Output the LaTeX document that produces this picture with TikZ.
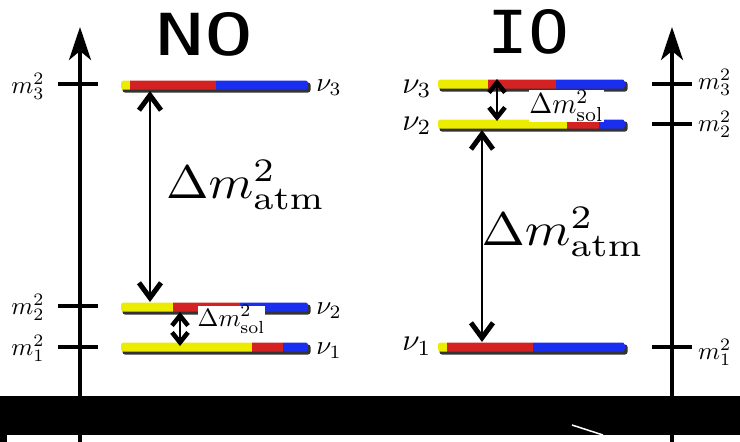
\documentclass[tikz,border=0pt]{standalone}
\usepackage{fontspec}
\usepackage{graphicx}
\usetikzlibrary{arrows.meta}
\newfontfamily\titlefont{DejaVu Sans Mono}
\definecolor{nuyellow}{RGB}{236,236,0}
\definecolor{nured}{RGB}{212,34,34}
\definecolor{nublue}{RGB}{26,46,240}
\newcommand\nubar[6]{%
  \fill[black!80, rounded corners=2.5pt] (#2+1.5,#6-2.5) rectangle (#5+2.5,#6+7.5);
  \begin{scope}
    \clip[rounded corners=2.5pt] (#2,#6-4.5) rectangle (#5,#6+4.5);
    \fill[nuyellow] (#2,#6-5) rectangle (#3,#6+5);
    \fill[nured] (#3,#6-5) rectangle (#4,#6+5);
    \fill[nublue] (#4,#6-5) rectangle (#5,#6+5);
  \end{scope}
  \coordinate (#1) at (#2,#6);}
\begin{document}
\begin{tikzpicture}[x=1pt,y=-1pt,
  axisline/.style={line width=3.5pt, -{Stealth[length=33pt,width=22pt,inset=9pt]}},
  tickline/.style={line width=3.5pt},
  dmatm/.style={line width=1.3pt, {Straight Barb[length=15pt,width=22pt,line width=5pt]}-{Straight Barb[length=15pt,width=22pt,line width=5pt]}},
  dmsol/.style={line width=1.3pt, {Straight Barb[length=10pt,width=16pt,line width=4.5pt]}-{Straight Barb[length=10pt,width=16pt,line width=4.5pt]}},
  lab/.style={inner sep=0pt},
  solbox/.style={inner sep=0pt, fill=white}]
\useasboundingbox (0,0) rectangle (740,442);

% bottom band
\fill[black] (0,396) rectangle (740,435);
\fill[black] (0,435) rectangle (7,442);
\draw[white, line width=1.5pt] (572,425) -- (603,435);

% axes
\coordinate (la0) at (80,442); \coordinate (la1) at (80,27);
\coordinate (ra0) at (672,442); \coordinate (ra1) at (672,27);
\draw[gray!60, line width=4.5pt] (80,396) -- (80,435);
\draw[gray!60, line width=4.5pt] (672,396) -- (672,435);
\draw[axisline] (la0) -- (la1);
\draw[axisline] (ra0) -- (ra1);

% ticks
\coordinate (lt3a) at (58,84); \coordinate (lt3b) at (98,84);
\coordinate (lt2a) at (58,306); \coordinate (lt2b) at (98,306);
\coordinate (lt1a) at (58,347); \coordinate (lt1b) at (98,347);
\coordinate (rt3a) at (652,84); \coordinate (rt3b) at (692,84);
\coordinate (rt2a) at (652,124); \coordinate (rt2b) at (692,124);
\coordinate (rt1a) at (652,347); \coordinate (rt1b) at (692,347);
\draw[tickline] (lt3a) -- (lt3b);
\draw[tickline] (lt2a) -- (lt2b);
\draw[tickline] (lt1a) -- (lt1b);
\draw[tickline] (rt3a) -- (rt3b);
\draw[tickline] (rt2a) -- (rt2b);
\draw[tickline] (rt1a) -- (rt1b);

% axis labels
\node[lab] (lm3) at (28,86.5) {\scalebox{2.5}{$m_3^2$}};
\node[lab] (lm2) at (28,307) {\scalebox{2.5}{$m_2^2$}};
\node[lab] (lm1) at (28,348) {\scalebox{2.5}{$m_1^2$}};
\node[lab, anchor=west] (rm3) at (698,82) {\scalebox{2.5}{$m_3^2$}};
\node[lab, anchor=west] (rm2) at (698,124) {\scalebox{2.5}{$m_2^2$}};
\node[lab, anchor=west] (rm1) at (698,352) {\scalebox{2.5}{$m_1^2$}};

% titles
\node[lab] (tno) at (205,34) {\resizebox{98pt}{43pt}{\titlefont NO}};
\node[lab] (tio) at (529,32) {\resizebox{82pt}{44pt}{\titlefont IO}};

% NO bars
\nubar{no3}{121}{130}{216}{308}{85}
\nubar{no2}{121}{173}{240}{308}{307}
\nubar{no1}{121}{252}{283}{308}{347}
% IO bars
\nubar{io3}{438}{488}{556}{625}{84}
\nubar{io2}{438}{567}{599}{625}{124}
\nubar{io1}{438}{447}{533}{625}{347}

% state labels
\node[lab] (nno3) at (329,88) {\scalebox{2.7}{$\nu_3$}};
\node[lab] (nno2) at (329,311) {\scalebox{2.7}{$\nu_2$}};
\node[lab] (nno1) at (329,351) {\scalebox{2.7}{$\nu_1$}};
\node[lab] (nio3) at (417,89) {\scalebox{3.1}{$\nu_3$}};
\node[lab] (nio2) at (417,126) {\scalebox{3.1}{$\nu_2$}};
\node[lab] (nio1) at (417,346) {\scalebox{3.1}{$\nu_1$}};

% sol label boxes
\node[solbox] (solno) at (231.5,319.5) {\scalebox{2.5}{$\Delta m^2_{\mathrm{sol}}$}};
\node[solbox] (solio) at (566.5,106) {\scalebox{2.75}[2.9]{$\Delta m^2_{\mathrm{sol}}$}};

% atm labels
\node[lab] (atmno) at (246,185) {\scalebox{5.1}[4.7]{$\Delta m^2_{\mathrm{atm}}$}};
\node[lab] (atmio) at (563,232) {\scalebox{5.2}[4.7]{$\Delta m^2_{\mathrm{atm}}$}};

% arrows
\coordinate (na1) at (150,91); \coordinate (na2) at (150,302);
\coordinate (ns1) at (180,312); \coordinate (ns2) at (180,346);
\coordinate (ia1) at (482,130); \coordinate (ia2) at (482,342);
\coordinate (is1) at (497,79); \coordinate (is2) at (497,121);
\draw[dmatm] (na1) -- (na2);
\draw[dmsol] (ns1) -- (ns2);
\draw[dmatm] (ia1) -- (ia2);
\draw[dmsol] (is1) -- (is2);
\end{tikzpicture}
\end{document}
